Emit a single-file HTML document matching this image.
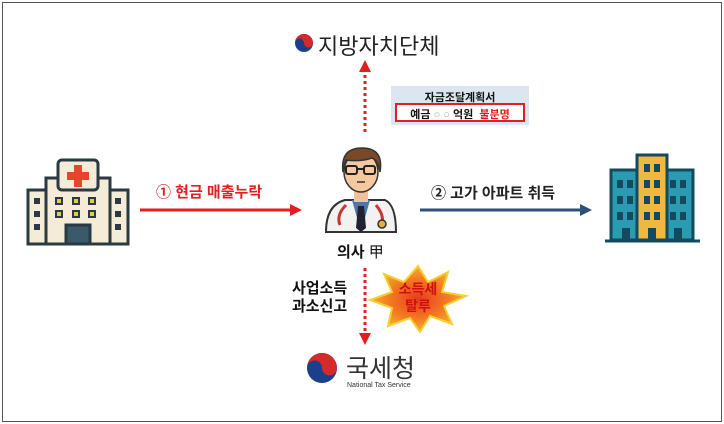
<!DOCTYPE html>
<html><head><meta charset="utf-8"><style>
body{margin:0;width:724px;height:424px;background:#fff;font-family:"Liberation Sans","Noto Sans CJK KR",sans-serif;position:relative;overflow:hidden}
.t{position:absolute;white-space:nowrap;font-weight:bold}
</style></head><body>
<div style="position:absolute;left:2px;top:2px;width:718px;height:418px;border:1px solid #555"></div>
<svg width="724" height="424" style="position:absolute;left:0;top:0">
<defs>
<radialGradient id="sb" cx="0.5" cy="0.5" r="0.5"><stop offset="0" stop-color="#e83a20"/><stop offset="0.6" stop-color="#f37a20"/><stop offset="1" stop-color="#f6b030"/></radialGradient>
</defs>
<!-- logo top -->
<circle cx="304" cy="43" r="9" fill="#1b3f8a"/><path d="M295,43 a9,9 0 0 1 18,0 a4.5,4.5 0 0 1 -9,0 a4.5,4.5 0 0 0 -9,0z" fill="#d32a2a"/>
<!-- dotted up -->
<line x1="365" y1="132" x2="365" y2="70" stroke="#e02020" stroke-width="3" stroke-dasharray="3,3"/>
<path d="M359,72 L365,60 L371,72z" fill="#e02020"/>
<!-- box -->
<rect x="391" y="86" width="138" height="39" fill="#dde6f0"/>
<rect x="396" y="104" width="128" height="17" fill="#fff" stroke="#e02020" stroke-width="2"/>
<!-- hospital -->
<g stroke="#2b3a42" stroke-width="3">
<rect x="28" y="190" width="28" height="54" fill="#f5ecd8"/>
<rect x="100" y="190" width="28" height="54" fill="#f5ecd8"/>
<rect x="46" y="178" width="64" height="66" fill="#f5ecd8"/>
<rect x="58" y="160" width="40" height="30" rx="4" fill="#f5ecd8"/>
<rect x="66" y="225" width="24" height="19" fill="#3a5a6a"/>
</g>
<path d="M74,165h8v7h7v8h-7v7h-8v-7h-7v-8h7z" fill="#e8452c"/>
<g fill="#2b3a42"><rect x="34" y="198" width="6" height="6"/><rect x="34" y="211" width="6" height="6"/><rect x="34" y="224" width="6" height="6"/><rect x="115" y="198" width="6" height="6"/><rect x="115" y="211" width="6" height="6"/><rect x="115" y="224" width="6" height="6"/></g>
<g fill="#e8c84a" stroke="#2b3a42" stroke-width="2"><rect x="56" y="198" width="6" height="6"/><rect x="73" y="198" width="6" height="6"/><rect x="89" y="198" width="6" height="6"/><rect x="56" y="211" width="6" height="6"/><rect x="73" y="211" width="6" height="6"/><rect x="89" y="211" width="6" height="6"/></g>
<!-- red arrow -->
<line x1="140" y1="210" x2="292" y2="210" stroke="#e02020" stroke-width="3"/>
<path d="M290,204 L302,210 L290,216z" fill="#e02020"/>
<!-- blue arrow -->
<line x1="420" y1="210" x2="582" y2="210" stroke="#2e4f7a" stroke-width="3"/>
<path d="M580,204 L592,210 L580,216z" fill="#2e4f7a"/>
<!-- buildings -->
<g stroke="#134a5e" stroke-width="3">
<rect x="611" y="170" width="30" height="70" fill="#2a9bb0"/>
<rect x="663" y="170" width="30" height="70" fill="#2a9bb0"/>
<rect x="637" y="155" width="30" height="85" fill="#f0b840"/>
<line x1="605" y1="241" x2="700" y2="241"/>
</g>
<g fill="#134a5e"><rect x="617" y="180" width="6" height="8"/><rect x="627" y="180" width="6" height="8"/><rect x="617" y="196" width="6" height="8"/><rect x="627" y="196" width="6" height="8"/><rect x="617" y="212" width="6" height="8"/><rect x="627" y="212" width="6" height="8"/>
<rect x="670" y="180" width="6" height="8"/><rect x="680" y="180" width="6" height="8"/><rect x="670" y="196" width="6" height="8"/><rect x="680" y="196" width="6" height="8"/><rect x="670" y="212" width="6" height="8"/><rect x="680" y="212" width="6" height="8"/>
<rect x="644" y="164" width="6" height="8"/><rect x="654" y="164" width="6" height="8"/><rect x="644" y="180" width="6" height="8"/><rect x="654" y="180" width="6" height="8"/><rect x="644" y="196" width="6" height="8"/><rect x="654" y="196" width="6" height="8"/><rect x="644" y="212" width="6" height="8"/><rect x="654" y="212" width="6" height="8"/>
<rect x="622" y="228" width="8" height="12"/><rect x="648" y="228" width="8" height="12"/><rect x="674" y="228" width="8" height="12"/></g>
<!-- doctor -->
<path d="M326,232 Q326,205 345,200 L385,200 Q396,205 396,232z" fill="#f2f2f0" stroke="#333" stroke-width="2"/>
<path d="M352,200 L361,232 L370,200z" fill="#4a78a8"/>
<path d="M358,206 L364,206 L366,228 L361,232 L356,228z" fill="#223"/>
<rect x="354" y="188" width="14" height="14" fill="#f0c29a"/>
<ellipse cx="361" cy="172" rx="17" ry="20" fill="#f5c9a0" stroke="#333" stroke-width="1.5"/>
<path d="M343,172 Q340,148 362,148 Q384,148 380,172 Q378,160 372,158 Q360,162 346,160 Q344,165 343,172z" fill="#7a4a28" stroke="#333" stroke-width="1.5"/>
<g fill="none" stroke="#222" stroke-width="2"><rect x="346" y="166" width="11" height="8" rx="2"/><rect x="364" y="166" width="11" height="8" rx="2"/><line x1="357" y1="169" x2="364" y2="169"/></g>
<line x1="357" y1="182" x2="365" y2="182" stroke="#333" stroke-width="1.5"/>
<path d="M346,205 Q336,215 340,225" stroke="#c33" stroke-width="3" fill="none"/>
<path d="M376,205 Q384,215 382,222" stroke="#c33" stroke-width="3" fill="none"/>
<circle cx="382" cy="224" r="4" fill="#e8b040" stroke="#333" stroke-width="1.5"/>
<!-- dotted down -->
<line x1="365" y1="268" x2="365" y2="335" stroke="#e02020" stroke-width="3" stroke-dasharray="3,3"/>
<path d="M359,333 L365,345 L371,333z" fill="#e02020"/>
<!-- starburst -->
<polygon points="418,266 428,282 448,272 442,292 466,296 444,306 452,324 430,316 420,332 410,318 388,326 392,308 370,300 392,292 384,274 404,282" fill="url(#sb)" stroke="#f5d030" stroke-width="2"/>
<!-- bottom logo -->
<circle cx="322" cy="368" r="15" fill="#1b3f8a"/>
<path d="M307,368 a15,15 0 0 1 30,0 a7.5,7.5 0 0 1 -15,0 a7.5,7.5 0 0 0 -15,0z" fill="#d32a2a"/>
</svg>
<div class="t" style="left:318px;top:29px;font-size:22px;font-weight:normal;color:#222">지방자치단체</div>
<div class="t" style="left:391px;top:89px;width:138px;text-align:center;font-size:11px;color:#111">자금조달계획서</div>
<div class="t" style="left:396px;top:106px;width:128px;text-align:center;font-size:11px;color:#111">예금 <span style="color:#aaa;font-weight:normal">○ ○</span> 억원 &nbsp;<span style="color:#e02020">불분명</span></div>
<div class="t" style="left:156px;top:181px;font-size:15px;color:#e02020">① 현금 매출누락</div>
<div class="t" style="left:431px;top:182px;font-size:15px;color:#222">② 고가 아파트 취득</div>
<div class="t" style="left:337px;top:241px;font-size:15px;color:#111">의사 <span style="font-weight:normal">甲</span></div>
<div class="t" style="left:292px;top:280px;font-size:15px;line-height:18px;color:#111;text-align:right">사업소득<br>과소신고</div>
<div class="t" style="left:388px;top:281px;width:60px;text-align:center;font-size:14px;line-height:17px;color:#d01010">소득세<br>탈루</div>
<div class="t" style="left:346px;top:349px;font-size:25px;font-weight:normal;color:#333">국세청</div>
<div class="t" style="left:347px;top:382px;font-size:7px;font-weight:normal;color:#333">National Tax Service</div>
</body></html>
